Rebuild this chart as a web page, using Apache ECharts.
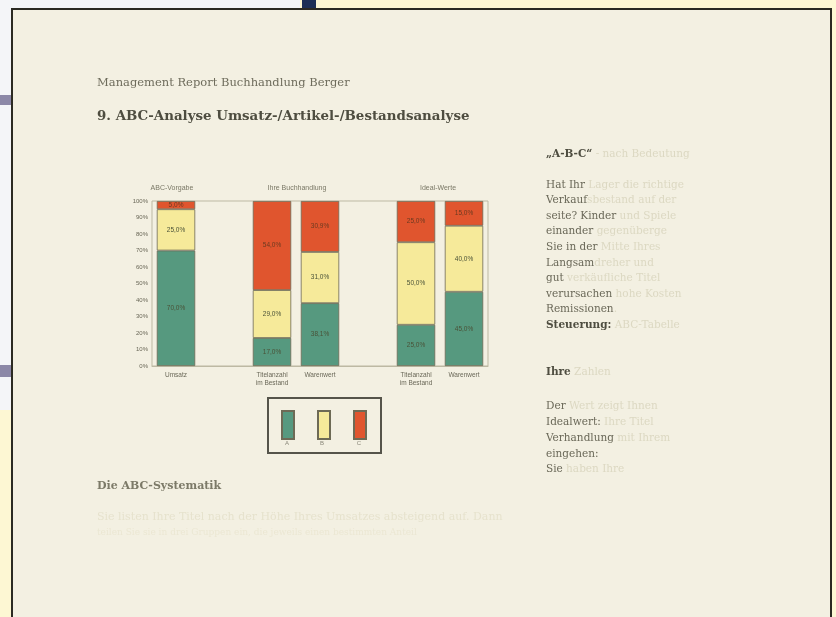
<!DOCTYPE html>
<html>
<head>
<meta charset="utf-8">
<script src="https://cdn.jsdelivr.net/npm/echarts@6/dist/echarts.min.js"></script>
<style>
html,body{margin:0;padding:0;background:#fdf7d3;}
#chart{width:836px;height:617px;}
</style>
</head>
<body>
<div id="chart"></div>
<script>
// ---- data ----
var categories = ['Umsatz', '', 'Titelanzahl\nim Bestand', 'Warenwert', '', 'Titelanzahl\nim Bestand', 'Warenwert'];
var seriesNames = ['A', 'B', 'C'];
var valuesA = [70.0, '-', 17.0, 38.1, '-', 25.0, 45.0];
var valuesB = [25.0, '-', 29.0, 31.0, '-', 50.0, 40.0];
var valuesC = [5.0, '-', 54.0, 30.9, '-', 25.0, 15.0];
var groupHeaders = ['ABC-Vorgabe', 'Ihre Buchhandlung', 'Ideal-Werte'];
var yTicks = [0, 10, 20, 30, 40, 50, 60, 70, 80, 90, 100];

var colors = ['#56997f', '#f6ea9a', '#e0552e'];

var chart = echarts.init(document.getElementById('chart'), null, {renderer: 'canvas'});

function fmt(p) {
  return p.value.toFixed(1).replace('.', ',') + '%';
}

function mkSeries(name, data, idx) {
  return {
    name: name,
    type: 'bar',
    stack: 'abc',
    barWidth: '80%',
    data: data,
    itemStyle: {color: colors[idx], borderColor: '#6d6a55', borderWidth: 0.8},
    label: {
      show: true,
      position: 'inside',
      formatter: fmt,
      fontSize: 6.5,
      color: idx === 2 ? '#6b3a20' : '#4a5238',
      fontFamily: 'Liberation Sans'
    }
  };
}

var SERIF = '"DejaVu Serif"';
var faint = '#dcd8c2';

var graphics = [
  // screen pieces outside the document
  {type: 'rect', shape: {x: 0, y: 0, width: 300, height: 410}, style: {fill: '#f4f5f8'}, z: -10, silent: true},
  {type: 'rect', shape: {x: 0, y: 95, width: 12, height: 10}, style: {fill: '#8c88a8'}, z: -9, silent: true},
  {type: 'rect', shape: {x: 0, y: 365, width: 12, height: 12}, style: {fill: '#8c88a8'}, z: -9, silent: true},
  {type: 'rect', shape: {x: 302, y: 0, width: 14, height: 10}, style: {fill: '#1d2f55'}, z: -9, silent: true},
  // document page
  {type: 'rect', shape: {x: 12, y: 9, width: 819, height: 620}, style: {fill: '#f3f0e2', stroke: '#2b2a22', lineWidth: 2}, z: -8, silent: true},
  // headings
  {type: 'text', left: 97, top: 77, style: {text: 'Management Report Buchhandlung Berger', font: '11.5px ' + SERIF, fill: '#6e6c5c'}},
  {type: 'text', left: 97, top: 110, style: {text: '9. ABC-Analyse Umsatz-/Artikel-/Bestandsanalyse', font: 'bold 13.4px ' + SERIF, fill: '#4e4d40'}},
  // group headers
  {type: 'text', x: 172, y: 188, style: {text: groupHeaders[0], font: '7px "Liberation Sans"', fill: '#7a7866', textAlign: 'center', textVerticalAlign: 'middle'}},
  {type: 'text', x: 297, y: 188, style: {text: groupHeaders[1], font: '7px "Liberation Sans"', fill: '#7a7866', textAlign: 'center', textVerticalAlign: 'middle'}},
  {type: 'text', x: 438, y: 188, style: {text: groupHeaders[2], font: '7px "Liberation Sans"', fill: '#7a7866', textAlign: 'center', textVerticalAlign: 'middle'}},
  // legend frame and labels
  {type: 'rect', shape: {x: 268, y: 398, width: 113, height: 55}, style: {fill: 'none', stroke: '#55544a', lineWidth: 2}},
  {type: 'text', x: 287, y: 443, style: {text: 'A', font: '6px "Liberation Sans"', fill: '#8a887a', textAlign: 'center', textVerticalAlign: 'middle'}},
  {type: 'text', x: 322, y: 443, style: {text: 'B', font: '6px "Liberation Sans"', fill: '#8a887a', textAlign: 'center', textVerticalAlign: 'middle'}},
  {type: 'text', x: 359, y: 443, style: {text: 'C', font: '6px "Liberation Sans"', fill: '#8a887a', textAlign: 'center', textVerticalAlign: 'middle'}},
  // bottom section
  {type: 'text', left: 97, top: 481, style: {text: 'Die ABC-Systematik', font: 'bold 11px ' + SERIF, fill: '#7c7a68'}},
  {type: 'text', left: 97, top: 512, style: {text: 'Sie listen Ihre Titel nach der Höhe Ihres Umsatzes absteigend auf. Dann', font: '11px ' + SERIF, fill: '#e6e2cd'}},
  {type: 'text', left: 97, top: 528, style: {text: 'teilen Sie sie in drei Gruppen ein, die jeweils einen bestimmten Anteil', font: '9px ' + SERIF, fill: '#ebe7d3'}}
];

// right column text (dark start, faded rest)
var rightLines = [
  [155, '„A-B-C“', ' - nach Bedeutung', true],
  [186, 'Hat Ihr', ' Lager die richtige', false],
  [201, 'Verkauf', 'sbestand auf der', false],
  [217, 'seite? Kinder', ' und Spiele', false],
  [232, 'einander', ' gegenüberge', false],
  [248, 'Sie in der', ' Mitte Ihres', false],
  [264, 'Langsam', 'dreher und', false],
  [279, 'gut', ' verkäufliche Titel', false],
  [295, 'verursachen', ' hohe Kosten', false],
  [310, 'Remissionen', '.', false],
  [326, 'Steuerung:', ' ABC-Tabelle', true],
  [373, 'Ihre', ' Zahlen', true],
  [407, 'Der', ' Wert zeigt Ihnen', false],
  [423, 'Idealwert:', ' Ihre Titel', false],
  [439, 'Verhandlung', ' mit Ihrem', false],
  [455, 'eingehen:', '', false],
  [470, 'Sie', ' haben Ihre', false]
];
rightLines.forEach(function (l) {
  graphics.push({
    type: 'text', left: 546, top: l[0] - 6,
    style: {
      text: '{d|' + l[1] + '}{f|' + l[2] + '}',
      rich: {
        d: {font: (l[3] ? 'bold ' : '') + '10.5px ' + SERIF, fill: l[3] ? '#4e4d40' : '#6a6858'},
        f: {font: '10.5px ' + SERIF, fill: faint}
      }
    }
  });
});

var option = {
  backgroundColor: 'transparent',
  animation: false,
  color: colors,
  grid: {left: 152, right: 348, top: 201, bottom: 251, show: true, borderColor: '#bdb9a3', borderWidth: 1, backgroundColor: 'transparent'},
  legend: {
    data: seriesNames,
    left: 276, top: 405,
    itemWidth: 12, itemHeight: 28, itemGap: 22,
    icon: 'rect',
    formatter: function () { return ''; },
    textStyle: {fontSize: 1},
    selectedMode: false
  },
  xAxis: {
    type: 'category',
    data: categories,
    axisLine: {show: true, lineStyle: {color: '#bdb9a3'}},
    axisTick: {show: false},
    axisLabel: {interval: 0, fontSize: 6.5, color: '#6a6858', margin: 5, lineHeight: 8, fontFamily: 'Liberation Sans'}
  },
  yAxis: {
    type: 'value',
    min: yTicks[0], max: yTicks[yTicks.length - 1], interval: 10,
    axisLine: {show: false},
    axisTick: {show: false},
    splitLine: {show: false},
    axisLabel: {formatter: '{value}%', fontSize: 6, color: '#6a6858', margin: 4, fontFamily: 'Liberation Sans'}
  },
  series: [
    mkSeries(seriesNames[0], valuesA, 0),
    mkSeries(seriesNames[1], valuesB, 1),
    mkSeries(seriesNames[2], valuesC, 2)
  ],
  graphic: graphics
};
chart.setOption(option);
</script>
</body>
</html>
